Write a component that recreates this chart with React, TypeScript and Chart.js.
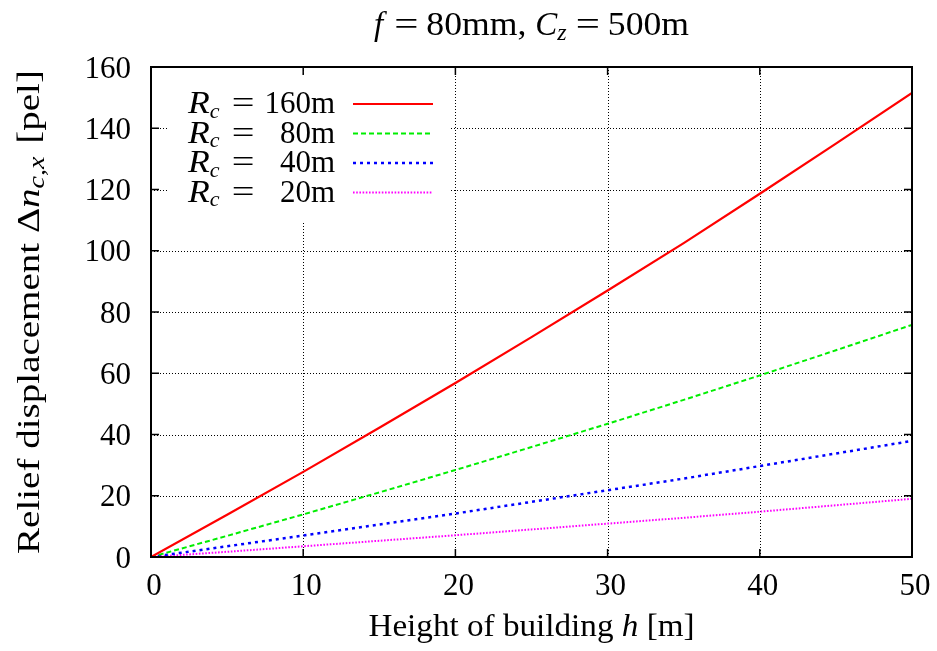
import React, { useEffect, useRef } from "react";
import { Chart, registerables } from "chart.js";

Chart.register(...registerables);

// ---- data ----
const heights = [0, 5, 10, 15, 20, 25, 30, 35, 40, 45, 50];
const rc160 = [0, 13.8, 27.8, 42.2, 56.8, 71.8, 87.0, 102.5, 118.6, 135.0, 151.5];
const rc80 = [0, 6.9, 13.9, 21.1, 28.4, 35.9, 43.5, 51.3, 59.3, 67.5, 75.8];
const rc40 = [0, 3.5, 7.0, 10.6, 14.2, 18.0, 21.8, 25.6, 29.7, 33.8, 37.9];
const rc20 = [0, 1.7, 3.5, 5.3, 7.1, 9.0, 10.9, 12.8, 14.8, 16.9, 19.0];
const seriesRadii = ["160", "80", "40", "20"];
const xTickValues = [0, 10, 20, 30, 40, 50];
const yTickValues = [0, 20, 40, 60, 80, 100, 120, 140, 160];

const FONT = '"Liberation Serif"';
const SIZE = 31;

type Seg = { t: string; it?: boolean; sub?: boolean; gap?: number; sx?: number };

function segFont(s: Seg, size: number) {
  const sz = s.sub ? Math.round(size * 0.72) : size;
  return `${s.it ? "italic " : ""}${sz}px ${FONT}`;
}

function segW(ctx: CanvasRenderingContext2D, s: Seg, size: number) {
  ctx.font = segFont(s, size);
  return ctx.measureText(s.t).width * (s.sx || 1);
}

function richWidth(ctx: CanvasRenderingContext2D, segs: Seg[], size: number) {
  let w = 0;
  for (const s of segs) w += (s.gap || 0) + segW(ctx, s, size);
  return w;
}

function drawRich(
  ctx: CanvasRenderingContext2D,
  segs: Seg[],
  x: number,
  y: number,
  size: number,
  align: "left" | "center" | "right"
) {
  const w = richWidth(ctx, segs, size);
  let cx = align === "left" ? x : align === "center" ? x - w / 2 : x - w;
  ctx.textAlign = "left";
  ctx.textBaseline = "alphabetic";
  for (const s of segs) {
    cx += s.gap || 0;
    const sw = segW(ctx, s, size);
    ctx.save();
    ctx.translate(cx, y + (s.sub ? size * 0.15 : 0));
    ctx.scale(s.sx || 1, 1);
    ctx.font = segFont(s, size);
    ctx.fillText(s.t, 0, 0);
    ctx.restore();
    cx += sw;
  }
}

const colors = ["#ff0000", "#00ee00", "#0000ff", "#ff00ff"];
const dashes: number[][] = [[], [5, 3], [3, 4], [1.6, 1.6]];
const widths = [2.2, 2, 2.5, 2];

const LEG = { x0: 168, y0: 76, x1: 450, y1: 223 };
const EQ = 1.3;

const decorPlugin = {
  id: "gnuplotDecor",
  beforeDatasetsDraw(chart: any) {
    const { ctx, chartArea: a, scales } = chart;
    ctx.save();
    ctx.strokeStyle = "#000";
    ctx.lineWidth = 1;
    ctx.setLineDash([1, 2]);
    for (const v of xTickValues) {
      const px = Math.round(scales.x.getPixelForValue(v)) + 0.5;
      if (px < a.left + 2 || px > a.right - 2) continue;
      ctx.beginPath();
      ctx.moveTo(px, a.top);
      ctx.lineTo(px, a.bottom);
      ctx.stroke();
    }
    for (const v of yTickValues) {
      const py = Math.round(scales.y.getPixelForValue(v)) + 0.5;
      if (py < a.top + 2 || py > a.bottom - 2) continue;
      ctx.beginPath();
      ctx.moveTo(a.left, py);
      ctx.lineTo(a.right, py);
      ctx.stroke();
    }
    ctx.setLineDash([]);
    ctx.fillStyle = "#fff";
    ctx.fillRect(LEG.x0, LEG.y0, LEG.x1 - LEG.x0, LEG.y1 - LEG.y0);
    ctx.restore();
  },
  afterDraw(chart: any) {
    const { ctx, chartArea: a, scales } = chart;
    ctx.save();
    ctx.fillStyle = "#000";
    ctx.strokeStyle = "#000";
    ctx.lineWidth = 1.5;
    const TL = 8;
    for (const v of xTickValues) {
      const px = scales.x.getPixelForValue(v);
      ctx.beginPath();
      ctx.moveTo(px, a.bottom);
      ctx.lineTo(px, a.bottom - TL);
      ctx.moveTo(px, a.top);
      ctx.lineTo(px, a.top + TL);
      ctx.stroke();
    }
    for (const v of yTickValues) {
      const py = scales.y.getPixelForValue(v);
      ctx.beginPath();
      ctx.moveTo(a.left, py);
      ctx.lineTo(a.left + TL, py);
      ctx.moveTo(a.right, py);
      ctx.lineTo(a.right - TL, py);
      ctx.stroke();
    }
    ctx.lineWidth = 2;
    ctx.strokeRect(a.left, a.top, a.right - a.left, a.bottom - a.top);

    ctx.font = `${SIZE}px ${FONT}`;
    ctx.textBaseline = "alphabetic";
    ctx.textAlign = "center";
    for (const v of xTickValues) {
      const px = scales.x.getPixelForValue(v);
      ctx.fillText(String(v), px + 3, 595);
    }
    ctx.textAlign = "right";
    for (const v of yTickValues) {
      const py = scales.y.getPixelForValue(v);
      ctx.fillText(String(v), 131, py + 10.5);
    }

    // title
    drawRich(
      ctx,
      [
        { t: "f", it: true },
        { t: "=", gap: 11, sx: EQ },
        { t: "80mm,", gap: 8, sx: 1.08 },
        { t: "C", it: true, gap: 9 },
        { t: "z", it: true, sub: true },
        { t: "=", gap: 9, sx: EQ },
        { t: "500m", gap: 8, sx: 1.08 },
      ],
      (a.left + a.right) / 2,
      35,
      33,
      "center"
    );

    // x title
    drawRich(
      ctx,
      [
        { t: "Height of building ", sx: 1.07 },
        { t: "h", it: true, sx: 1.07 },
        { t: " [m]", sx: 1.07 },
      ],
      (a.left + a.right) / 2,
      636,
      SIZE,
      "center"
    );

    // y title
    ctx.save();
    ctx.translate(39, (a.top + a.bottom) / 2);
    ctx.rotate(-Math.PI / 2);
    drawRich(
      ctx,
      [
        { t: "Relief displacement ", sx: 1.22 },
        { t: "Δ", sx: 1.22 },
        { t: "n", it: true, sx: 1.22 },
        { t: "c,x", it: true, sub: true, sx: 1.22 },
        { t: " [pel]", sx: 1.22, gap: 3 },
      ],
      0,
      0,
      32,
      "center"
    );
    ctx.restore();

    // legend
    for (let i = 0; i < seriesRadii.length; i++) {
      const base = 113 + i * 29.5;
      drawRich(
        ctx,
        [
          { t: "R", it: true, sx: 1.15 },
          { t: "c", it: true, sub: true },
        ],
        188,
        base,
        SIZE,
        "left"
      );
      drawRich(ctx, [{ t: "=", sx: EQ }], 243, base, SIZE, "center");
      ctx.font = `${SIZE}px ${FONT}`;
      ctx.textAlign = "right";
      ctx.fillText(seriesRadii[i] + "m", 335, base);
      const ly = base - 9;
      ctx.strokeStyle = colors[i];
      ctx.lineWidth = widths[i];
      ctx.setLineDash(dashes[i]);
      ctx.beginPath();
      ctx.moveTo(353, ly);
      ctx.lineTo(433, ly);
      ctx.stroke();
      ctx.setLineDash([]);
    }
    ctx.restore();
  },
};

export default function App() {
  const ref = useRef<HTMLCanvasElement>(null);
  useEffect(() => {
    document.body.style.margin = "0";
    const canvas = ref.current!;
    let chart: Chart | null = null;
    let cancelled = false;
    const seriesData = [rc160, rc80, rc40, rc20];
    const build = () => {
      if (cancelled) return;
      chart = new Chart(canvas, {
        type: "line",
        data: {
          labels: heights,
          datasets: seriesData.map((d, i) => ({
            label: `R_c = ${seriesRadii[i]}m`,
            data: d.map((y, j) => ({ x: heights[j], y })),
            borderColor: colors[i],
            borderWidth: widths[i],
            borderDash: dashes[i],
            pointRadius: 0,
            tension: 0,
            fill: false,
          })),
        },
        options: {
          animation: false,
          responsive: false,
          devicePixelRatio: 1,
          layout: { padding: { left: 151, right: 25, top: 67, bottom: 94 } },
          plugins: { legend: { display: false }, tooltip: { enabled: false }, title: { display: false } },
          scales: {
            x: { type: "linear", min: 0, max: 50, display: false },
            y: { type: "linear", min: 0, max: 160, display: false },
          },
        },
        plugins: [decorPlugin],
      });
    };
    Promise.all([
      document.fonts.load(`${SIZE}px ${FONT}`),
      document.fonts.load(`italic ${SIZE}px ${FONT}`),
    ])
      .catch(() => null)
      .then(build);
    return () => {
      cancelled = true;
      if (chart) chart.destroy();
    };
  }, []);
  return <canvas ref={ref} width={937} height={651} style={{ display: "block" }} />;
}
